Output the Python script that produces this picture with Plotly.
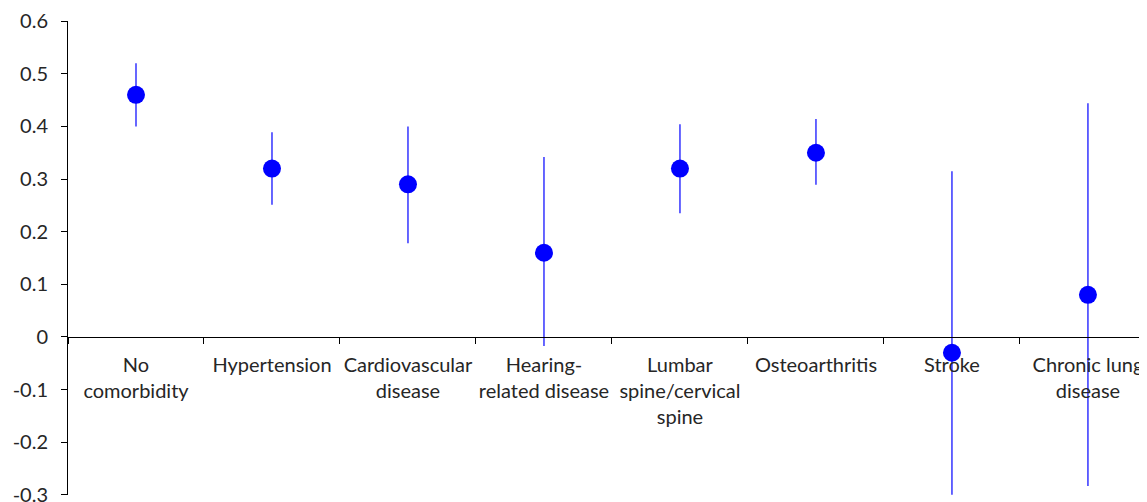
import plotly.graph_objects as go

categories = ["No<br>comorbidity", "Hypertension", "Cardiovascular<br>disease",
              "Hearing-<br>related disease", "Lumbar<br>spine/cervical<br>spine",
              "Osteoarthritis", "Stroke", "Chronic lung<br>disease"]
estimate = [0.46, 0.32, 0.29, 0.16, 0.32, 0.35, -0.03, 0.08]
ci_low = [0.40, 0.251, 0.178, -0.017, 0.235, 0.289, -0.30, -0.283]
ci_high = [0.52, 0.389, 0.40, 0.342, 0.404, 0.414, 0.315, 0.444]
y_tickvals = [-0.3, -0.2, -0.1, 0.0, 0.1, 0.2, 0.3, 0.4, 0.5, 0.6]
y_ticktext = ["-0.3", "-0.2", "-0.1", "0", "0.1", "0.2", "0.3", "0.4", "0.5", "0.6"]

err_plus = [h - e for h, e in zip(ci_high, estimate)]
err_minus = [e - l for e, l in zip(estimate, ci_low)]

fig = go.Figure()
fig.add_trace(go.Scatter(
    x=categories, y=estimate, mode="markers",
    marker=dict(color="#0000FF", size=18),
    error_y=dict(type="data", symmetric=False, array=err_plus, arrayminus=err_minus,
                 color="#0000FF", thickness=1.2, width=0),
    cliponaxis=False,
))

font = dict(family="Lato, Carlito, sans-serif", size=20, color="#262626")
fig.update_layout(
    width=1147, height=502,
    margin=dict(l=60, r=0, t=13, b=15),
    paper_bgcolor="white", plot_bgcolor="white",
    showlegend=False,
    font=font,
    xaxis=dict(type="category", range=[-0.5, 7.493], anchor="free", position=1/3,
               showline=True, linecolor="black", linewidth=1,
               ticks="outside", ticklen=6, tickcolor="black", tickson="boundaries",
               showgrid=False, zeroline=False, tickfont=font, ticklabelstandoff=10,
               tickangle=0, automargin=False),
    yaxis=dict(range=[-0.3003, 0.6003], tickmode="array", tickvals=y_tickvals, ticktext=y_ticktext,
               showline=True, linecolor="black", linewidth=1,
               ticks="outside", ticklen=6, tickcolor="black",
               showgrid=False, zeroline=False, tickfont=font, ticklabelstandoff=9,
               automargin=False),
)
fig.write_html("out.html")
